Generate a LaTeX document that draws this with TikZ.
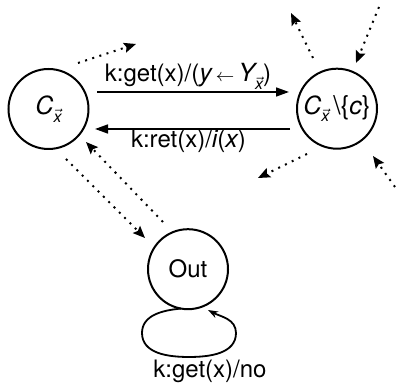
\documentclass[tikz,border=0pt]{standalone}
\usepackage{fontspec}
\setmainfont{TeX Gyre Heros}
\usetikzlibrary{arrows.meta}
% italic variable names and the vector subscript
\newcommand\mvar[1]{{\fontsize{12.5}{14}\selectfont\itshape #1}}
\newcommand\vsub{\raisebox{-0.6ex}{\fontsize{8}{9}\selectfont$\vec{\hbox{\itshape x}}$}}
\newcommand\getsarrow{{\fontsize{9}{10}\selectfont$\leftarrow$}}
\begin{document}
\begin{tikzpicture}[x=0.5pt,y=0.5pt,
  state/.style={circle,draw,line width=1pt,minimum size=40pt,inner sep=0pt,
    outer sep=0pt,font=\fontsize{12}{14}\selectfont},
  trans/.style={line width=0.8pt,-{Triangle[length=6.5pt,width=4.5pt]}},
  hint/.style={line width=1pt,dash pattern=on 1pt off 2.75pt,
    -{Stealth[length=6pt,width=5pt,inset=1pt]}},
  selfloop/.style={line width=0.9pt,-{Stealth[length=5pt,width=3.5pt,inset=1.5pt]}},
  lbl/.style={font=\fontsize{12}{14}\selectfont,inner sep=0pt,anchor=base}]
\useasboundingbox (0,0) rectangle (396,384);

% states
\node[state] (L) at (48.5,275) {\mvar{C}\vsub};
\node[state] (R) at (337,275.3) {\mvar{C}\vsub\,{\fontsize{13}{14}\selectfont\textbackslash\{\mvar{c}\}}};
\node[state] (O) at (188,114.8) {Out};

% transitions between the two states
\draw[trans] ([shift={(8.5,17)}]L.east) -- ([shift={(-8,16.7)}]R.west);
\node[lbl] (tg) at (188,302) {k:get(x)/(\mvar{y}\,\getsarrow\,\mvar{Y}\vsub)};
\draw[trans] ([shift={(-7,-20.3)}]R.west) -- ([shift={(6.5,-20)}]L.east);
\node[lbl] (tr) at (188.5,236) {k:ret(x)/\mvar{i}(\mvar{x})};

% self loop on Out
\coordinate (loopend) at (208,74);
\draw[selfloop] (O.-100) to[out=185,in=90] (142,51) to[out=-90,in=180] (189,27)
  to[out=0,in=-90] (236,51) to[out=90,in=-28] (loopend);
\node[lbl] (tn) at (210,6) {k:get(x)/no};

% dotted hints of further transitions
\coordinate (a1) at (78,321);  \coordinate (b1) at (136,340);
\coordinate (a2) at (163,162); \coordinate (b2) at (86,242);
\coordinate (a3) at (66,225);  \coordinate (b3) at (145,146);
\coordinate (a4) at (313,326); \coordinate (b4) at (291,371);
\coordinate (a5) at (379,377); \coordinate (b5) at (356,321);
\coordinate (a6) at (307,230); \coordinate (b6) at (258,206);
\coordinate (a7) at (395,197); \coordinate (b7) at (373,228);
\foreach \i in {1,...,7} {\draw[hint] (a\i) -- (b\i);}
\end{tikzpicture}
\end{document}
